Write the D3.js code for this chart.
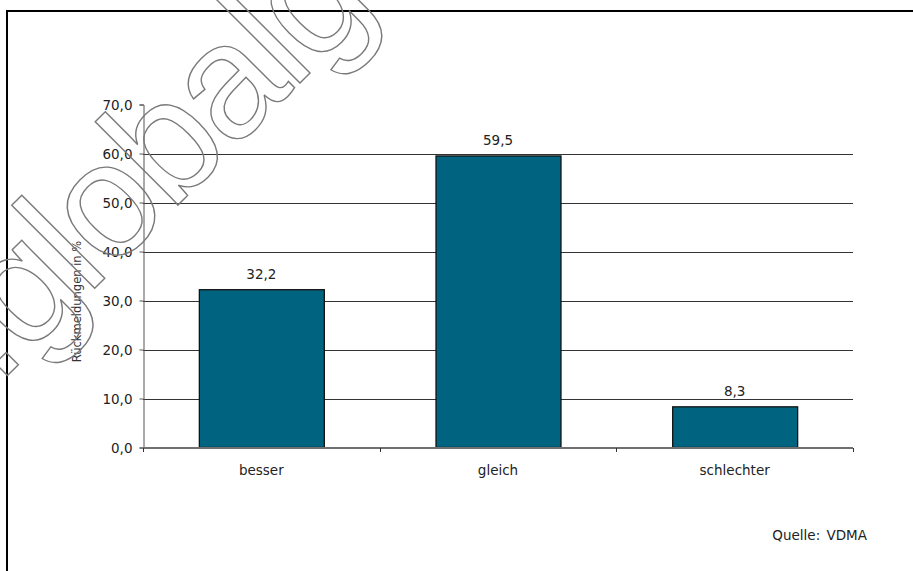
<!DOCTYPE html>
<html>
<head>
<meta charset="utf-8">
<script src="https://cdn.jsdelivr.net/npm/d3@7/dist/d3.min.js"></script>
<style>
  html, body { margin: 0; padding: 0; background: #fff; }
  svg { display: block; font-family: "DejaVu Sans", sans-serif; }
</style>
</head>
<body>
<svg id="chart" width="913" height="571"></svg>
<script>
const categories = ["besser", "gleich", "schlechter"];
const values = [32.2, 59.5, 8.3];
const yTicks = [0, 10, 20, 30, 40, 50, 60, 70];
const yTitle = "Rückmeldungen in %";
const source = "Quelle: VDMA";
const watermark = ".globalg";

const fmt = v => d3.format(".1f")(v).replace(".", ",");

const svg = d3.select("#chart");

// outer frame (open on the right and at the bottom)
svg.append("path")
  .attr("d", `M7,600 L7,11 L920,11`)
  .attr("fill", "none").attr("stroke", "#000").attr("stroke-width", 2);

const x = d3.scaleBand().domain(categories).range([143, 853]).paddingInner(0.472).paddingOuter(0.236);
const xb = d3.scaleBand().domain(categories).range([143, 853]);
const y = d3.scaleLinear().domain([0, 70]).range([447.5, 104.5]);

// grid lines
svg.append("g").selectAll("line").data(yTicks.filter(d => d > 0 && d < 70)).join("line")
  .attr("x1", 143).attr("x2", 853)
  .attr("y1", d => Math.round(y(d)) + 0.5).attr("y2", d => Math.round(y(d)) + 0.5)
  .attr("stroke", "#333").attr("stroke-width", 1);

// y axis
const yAxis = d3.axisLeft(y).tickValues(yTicks).tickFormat(fmt).tickSize(4).tickPadding(7);
const gy = svg.append("g").attr("transform", "translate(143.5,0)").call(yAxis);
gy.select(".domain").attr("stroke", "#555");
gy.selectAll(".tick line").attr("stroke", "#555");
gy.selectAll(".tick text").attr("font-size", 13.5).attr("fill", "#222")
  .attr("font-family", "DejaVu Sans, sans-serif").attr("dy", "0.36em");

// bars
svg.append("g").selectAll("rect").data(values).join("rect")
  .attr("x", (d, i) => x(categories[i]) + 0.5)
  .attr("width", x.bandwidth())
  .attr("y", d => y(d))
  .attr("height", d => y(0) - y(d))
  .attr("fill", "#006480").attr("stroke", "#111").attr("stroke-width", 1.3);

// x axis
svg.append("line").attr("x1", 143).attr("x2", 853).attr("y1", 448).attr("y2", 448)
  .attr("stroke", "#707070").attr("stroke-width", 2);
const xTickPos = categories.map(c => xb(c)).concat([xb.range()[1]]);
svg.append("g").selectAll("line").data(xTickPos).join("line")
  .attr("x1", d => Math.round(d) + 0.5).attr("x2", d => Math.round(d) + 0.5)
  .attr("y1", 448).attr("y2", 452).attr("stroke", "#333");
svg.append("g").selectAll("text").data(categories).join("text")
  .attr("x", d => x(d) + x.bandwidth() / 2).attr("y", 475)
  .attr("text-anchor", "middle").attr("font-size", 13.5).attr("fill", "#222")
  .text(d => d);

// value labels
svg.append("g").selectAll("text").data(values).join("text")
  .attr("x", (d, i) => x(categories[i]) + x.bandwidth() / 2)
  .attr("y", d => y(d) - 11)
  .attr("text-anchor", "middle").attr("font-size", 13.5).attr("fill", "#222")
  .text(d => fmt(d));

// y title
svg.append("text").attr("transform", "translate(81,301.5) rotate(-90)")
  .attr("text-anchor", "middle").attr("font-size", 11.5).attr("fill", "#333")
  .text(yTitle);

// source
svg.append("text").attr("x", 867).attr("y", 540).attr("text-anchor", "end")
  .attr("font-size", 13.5).attr("fill", "#222").attr("word-spacing", 2).text(source);

// watermark (outlined text)
svg.append("text").attr("transform", "translate(-3,386) rotate(-45)")
  .attr("font-size", 162).attr("letter-spacing", -4)
  .attr("fill", "none").attr("stroke", "#7a7a7a").attr("stroke-width", 1.4)
  .attr("font-family", "Liberation Sans, Arial, sans-serif")
  .text(watermark);
</script>
</body>
</html>
